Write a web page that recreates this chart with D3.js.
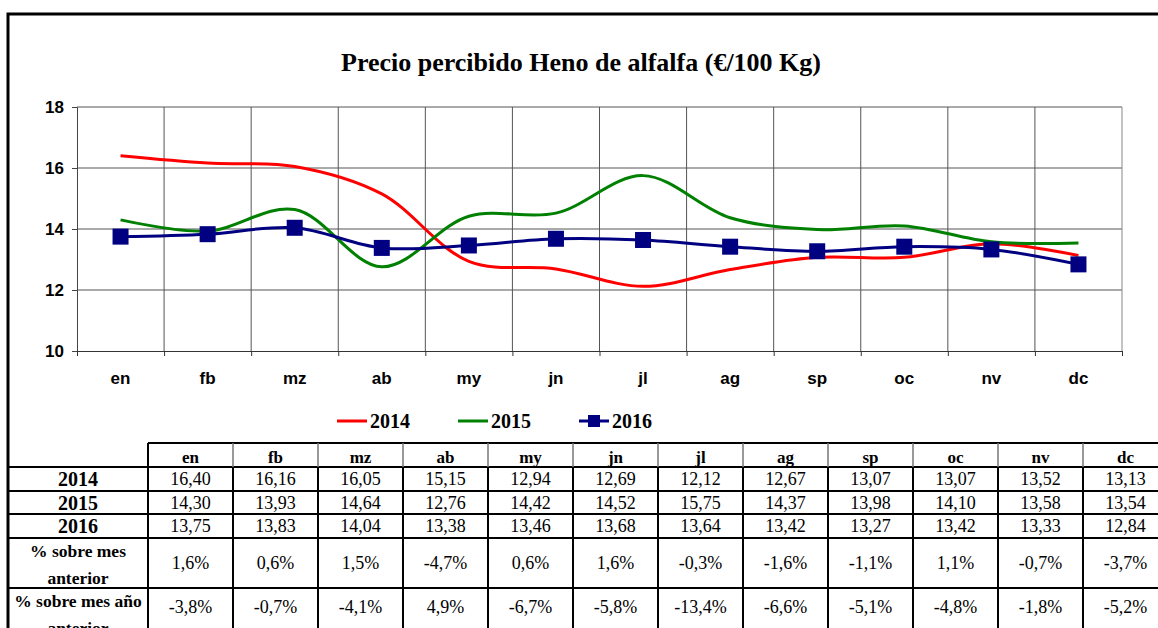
<!DOCTYPE html>
<html>
<meta charset="utf-8">
<script src="https://d3js.org/d3.v7.min.js"></script>
<style>
  body { margin: 0; background: #fff; }
  svg { display: block; }
</style>
<body>
<div id="chart"></div>
<script>
// data
var months = ["en", "fb", "mz", "ab", "my", "jn", "jl", "ag", "sp", "oc", "nv", "dc"];
var years = ["2014", "2015", "2016"];
var v2014 = [16.40, 16.16, 16.05, 15.15, 12.94, 12.69, 12.12, 12.67, 13.07, 13.07, 13.52, 13.13];
var v2015 = [14.30, 13.93, 14.64, 12.76, 14.42, 14.52, 15.75, 14.37, 13.98, 14.10, 13.58, 13.54];
var v2016 = [13.75, 13.83, 14.04, 13.38, 13.46, 13.68, 13.64, 13.42, 13.27, 13.42, 13.33, 12.84];
var pctMes = ["1,6%", "0,6%", "1,5%", "-4,7%", "0,6%", "1,6%", "-0,3%", "-1,6%", "-1,1%", "1,1%", "-0,7%", "-3,7%"];
var pctAnyo = ["-3,8%", "-0,7%", "-4,1%", "4,9%", "-6,7%", "-5,8%", "-13,4%", "-6,6%", "-5,1%", "-4,8%", "-1,8%", "-5,2%"];
var yTicks = [10, 12, 14, 16, 18];
var colors = {"2014": "#ff0000", "2015": "#008000", "2016": "#000080"};

var W = 1158, H = 628;
var svg = d3.select("#chart").append("svg")
    .attr("width", W).attr("height", H);

var serif = "'Liberation Serif', 'Times New Roman', serif";
var sans = "'Liberation Sans', Arial, sans-serif";

// outer frame (top + left)
svg.append("path")
    .attr("d", "M8," + H + "V14H" + W)
    .attr("fill", "none").attr("stroke", "#000").attr("stroke-width", 3);

// title
svg.append("text")
    .attr("x", 581).attr("y", 71)
    .attr("text-anchor", "middle")
    .style("font-family", serif).style("font-weight", "bold").style("font-size", "26px")
    .text("Precio percibido Heno de alfalfa (€/100 Kg)");

// scales
var x = d3.scaleBand().domain(months).range([77, 1122]);
var xi = d3.scaleLinear().domain([0, 12]).range([77, 1122]);
var y = d3.scaleLinear().domain([10, 18]).range([351, 107]);

// grid
var grid = svg.append("g");
grid.selectAll("line.h").data(yTicks.slice(1)).enter().append("line")
    .attr("x1", 77).attr("x2", 1122)
    .attr("y1", function(d) { return y(d); }).attr("y2", function(d) { return y(d); })
    .attr("stroke", "#555").attr("stroke-width", 1);
grid.selectAll("line.v").data(d3.range(1, 13)).enter().append("line")
    .attr("x1", function(d) { return xi(d); }).attr("x2", function(d) { return xi(d); })
    .attr("y1", y(18)).attr("y2", y(10))
    .attr("stroke", function(d) { return d == 12 ? "#888" : "#555"; }).attr("stroke-width", 1);

// axes
var yAxis = svg.append("g")
    .attr("transform", "translate(77,0)")
    .call(d3.axisLeft(y).tickValues(yTicks).tickSize(5).tickPadding(8).tickFormat(d3.format("d")));
yAxis.select(".domain").attr("stroke", "#444");
yAxis.selectAll(".tick line").attr("stroke", "#444");
yAxis.selectAll("text")
    .style("font-family", sans).style("font-weight", "bold").style("font-size", "17px").attr("fill", "#000");

var xAxis = svg.append("g")
    .attr("transform", "translate(0," + y(10) + ")")
    .call(d3.axisBottom(xi).ticks(12).tickSize(5).tickSizeOuter(5).tickFormat(""));
xAxis.select(".domain").attr("stroke", "#333");
xAxis.selectAll(".tick line").attr("stroke", "#333");

svg.append("g").selectAll("text").data(months).enter().append("text")
    .attr("x", function(d) { return x(d) + x.bandwidth() / 2; })
    .attr("y", 384)
    .attr("text-anchor", "middle")
    .style("font-family", sans).style("font-weight", "bold").style("font-size", "17px")
    .text(function(d) { return d; });

// lines
var series = [
  {name: "2014", values: v2014},
  {name: "2015", values: v2015},
  {name: "2016", values: v2016}
];
var line = d3.line()
    .x(function(d, i) { return x(months[i]) + x.bandwidth() / 2; })
    .y(function(d) { return y(d); })
    .curve(d3.curveCatmullRom.alpha(0.5));

svg.append("g").selectAll("path").data(series).enter().append("path")
    .attr("d", function(d) { return line(d.values); })
    .attr("fill", "none")
    .attr("stroke", function(d) { return colors[d.name]; })
    .attr("stroke-width", 3);

var ms = 16;
svg.append("g").selectAll("rect").data(v2016).enter().append("rect")
    .attr("x", function(d, i) { return x(months[i]) + x.bandwidth() / 2 - ms / 2; })
    .attr("y", function(d) { return y(d) - ms / 2; })
    .attr("width", ms).attr("height", ms)
    .attr("fill", colors["2016"]);

// legend
var legX = [337, 458, 579];
var leg = svg.append("g").selectAll("g").data(years).enter().append("g")
    .attr("transform", function(d, i) { return "translate(" + legX[i] + ",421)"; });
leg.append("line")
    .attr("x1", 0).attr("x2", 30)
    .attr("stroke", function(d) { return colors[d]; }).attr("stroke-width", 3);
leg.filter(function(d) { return d == "2016"; }).append("rect")
    .attr("x", 9).attr("y", -6).attr("width", 12).attr("height", 12)
    .attr("fill", colors["2016"]);
leg.append("text")
    .attr("x", 33).attr("y", 7)
    .style("font-family", serif).style("font-weight", "bold").style("font-size", "20px")
    .text(function(d) { return d; });

// data table
var tx = d3.scaleBand().domain(months).range([148, 148 + 85 * 12]);
var rowTops = [443, 467, 491, 514, 538, 588, 650];
var tbl = svg.append("g");

// header cells
tbl.selectAll("text.hd").data(months).enter().append("text")
    .attr("x", function(d) { return tx(d) + tx.bandwidth() / 2; })
    .attr("y", 463)
    .attr("text-anchor", "middle")
    .style("font-family", serif).style("font-weight", "bold").style("font-size", "17px")
    .text(function(d) { return d; });

// numeric rows
var fmt = function(v) { return v.toFixed(2).replace(".", ","); };
var rows = [v2014.map(fmt), v2015.map(fmt), v2016.map(fmt), pctMes, pctAnyo];
var rowLabels = [["2014"], ["2015"], ["2016"], ["% sobre mes", "anterior"], ["% sobre mes año", "anterior"]];
var rowBase = [485, 509, 532, 569, 613];

rows.forEach(function(r, ri) {
  var top = rowTops[ri + 1];
  tbl.selectAll(null).data(r).enter().append("text")
      .attr("x", function(d, i) { return tx(months[i]) + tx.bandwidth() / 2; })
      .attr("y", rowBase[ri])
      .attr("text-anchor", "middle")
      .style("font-family", serif).style("font-size", "18px")
      .text(function(d) { return d; });
  var lab = rowLabels[ri];
  if (lab.length == 1) {
    tbl.append("text")
        .attr("x", 78).attr("y", rowBase[ri] + 1)
        .attr("text-anchor", "middle")
        .style("font-family", serif).style("font-weight", "bold").style("font-size", "20px")
        .text(lab[0]);
  } else {
    tbl.append("text")
        .attr("x", 78).attr("y", top + 19)
        .attr("text-anchor", "middle")
        .style("font-family", serif).style("font-weight", "bold").style("font-size", "17.5px")
        .text(lab[0]);
    tbl.append("text")
        .attr("x", 78).attr("y", top + 46)
        .attr("text-anchor", "middle")
        .style("font-family", serif).style("font-weight", "bold").style("font-size", "17.5px")
        .text(lab[1]);
  }
});

// table rules
tbl.append("line").attr("x1", 148).attr("x2", W).attr("y1", 443).attr("y2", 443)
    .attr("stroke", "#000").attr("stroke-width", 2);
tbl.selectAll("line.hr").data(rowTops.slice(1, 6)).enter().append("line")
    .attr("x1", 8).attr("x2", W)
    .attr("y1", function(d) { return d; }).attr("y2", function(d) { return d; })
    .attr("stroke", "#000").attr("stroke-width", 2);
tbl.selectAll("line.vh").data(d3.range(0, 12)).enter().append("line")
    .attr("x1", function(d) { return 148 + 85 * d; }).attr("x2", function(d) { return 148 + 85 * d; })
    .attr("y1", 443).attr("y2", 467)
    .attr("stroke", function(d) { return d == 0 ? "#000" : "#777"; })
    .attr("stroke-width", function(d) { return d == 0 ? 2 : 1.5; });
tbl.selectAll("line.vd").data(d3.range(0, 12)).enter().append("line")
    .attr("x1", function(d) { return 148 + 85 * d; }).attr("x2", function(d) { return 148 + 85 * d; })
    .attr("y1", 467).attr("y2", H)
    .attr("stroke", "#000").attr("stroke-width", 2);
</script>
</body>
</html>
